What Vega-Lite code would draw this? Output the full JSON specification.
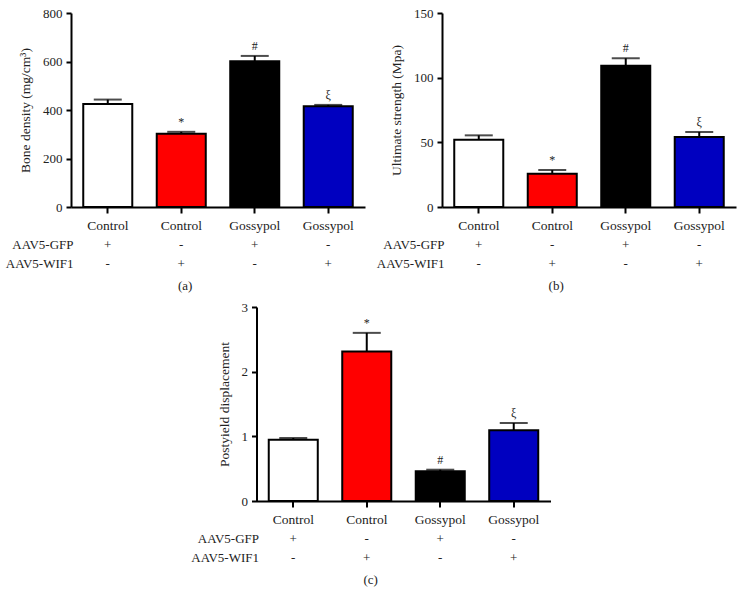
{
  "$schema": "https://vega.github.io/schema/vega-lite/v6.json",
  "padding": {"left": 5, "top": 7, "right": 5, "bottom": 5},
  "config": {
    "font": "Liberation Serif",
    "view": {"stroke": null},
    "axis": {"domainColor": "#000", "domainWidth": 2, "tickColor": "#000", "tickWidth": 2, "labelColor": "#222", "titleColor": "#222", "labelFont": "Liberation Serif", "titleFont": "Liberation Serif", "titleFontWeight": "normal", "grid": false, "labelFontSize": 13, "titleFontSize": 13.5},
    "title": {"font": "Liberation Serif", "fontSize": 13, "fontWeight": "normal", "color": "#222"}
  },
  "datasets": {
    "a": [
      {"id": "Control#1", "value": 425, "upper": 443, "sig": "", "AAV5-GFP": "+", "AAV5-WIF1": "-"},
      {"id": "Control#2", "value": 302, "upper": 310, "sig": "*", "AAV5-GFP": "-", "AAV5-WIF1": "+"},
      {"id": "Gossypol#3", "value": 601, "upper": 623, "sig": "#", "AAV5-GFP": "+", "AAV5-WIF1": "-"},
      {"id": "Gossypol#4", "value": 415, "upper": 421, "sig": "ξ", "AAV5-GFP": "-", "AAV5-WIF1": "+"}
    ],
    "b": [
      {"id": "Control#1", "value": 52, "upper": 55.4, "sig": "", "AAV5-GFP": "+", "AAV5-WIF1": "-"},
      {"id": "Control#2", "value": 25.8, "upper": 28.6, "sig": "*", "AAV5-GFP": "-", "AAV5-WIF1": "+"},
      {"id": "Gossypol#3", "value": 109.3, "upper": 115, "sig": "#", "AAV5-GFP": "+", "AAV5-WIF1": "-"},
      {"id": "Gossypol#4", "value": 54.1, "upper": 58, "sig": "ξ", "AAV5-GFP": "-", "AAV5-WIF1": "+"}
    ],
    "c": [
      {"id": "Control#1", "value": 0.948, "upper": 0.974, "sig": "", "AAV5-GFP": "+", "AAV5-WIF1": "-"},
      {"id": "Control#2", "value": 2.31, "upper": 2.6, "sig": "*", "AAV5-GFP": "-", "AAV5-WIF1": "+"},
      {"id": "Gossypol#3", "value": 0.459, "upper": 0.484, "sig": "#", "AAV5-GFP": "+", "AAV5-WIF1": "-"},
      {"id": "Gossypol#4", "value": 1.093, "upper": 1.206, "sig": "ξ", "AAV5-GFP": "-", "AAV5-WIF1": "+"}
    ]
  },
  "spacing": 8,
  "center": true,
  "vconcat": [
    {
      "spacing": 11,
      "hconcat": [
        {
          "title": {"text": "(a)", "orient": "bottom", "frame": "bounds", "anchor": "middle", "offset": 7},
          "spacing": 3,
          "vconcat": [
            {
              "data": {"name": "a"},
              "width": 294, "height": 194,
              "encoding": {"x": {"field": "id", "type": "nominal", "sort": null, "scale": {"paddingInner": 0.333, "paddingOuter": 0.1667}, "axis": {"title": null, "labelExpr": "split(datum.label,'#')[0]", "labelAngle": 0, "tickSize": 6, "labelPadding": 5, "labelFontSize": 13.5}}},
              "layer": [
                {"mark": {"type": "bar", "stroke": "#000", "strokeWidth": 2}, "encoding": {"y": {"field": "value", "type": "quantitative", "scale": {"domain": [0, 800], "nice": false}, "axis": {"values": [0, 200, 400, 600, 800], "format": "d", "tickSize": 5, "labelPadding": 4, "title": "Bone density (mg/cm³)", "titlePadding": 10}}, "fill": {"field": "id", "type": "nominal", "scale": {"range": ["#ffffff", "#ff0000", "#000000", "#0000c0"]}, "legend": null}}},
                {"mark": {"type": "rule", "strokeWidth": 2, "color": "#000"}, "encoding": {"y": {"field": "value", "type": "quantitative"}, "y2": {"field": "upper"}}},
                {"mark": {"type": "tick", "size": 28, "thickness": 2, "color": "#000"}, "encoding": {"y": {"field": "upper", "type": "quantitative"}}},
                {"mark": {"type": "text", "baseline": "bottom", "dy": -3, "fontSize": 12, "color": "#222"}, "encoding": {"y": {"field": "upper", "type": "quantitative"}, "text": {"field": "sig"}}}
              ]
            },
            {
              "data": {"name": "a"},
              "transform": [{"fold": ["AAV5-GFP", "AAV5-WIF1"], "as": ["row", "sym"]}],
              "width": 294, "height": 38,
              "mark": {"type": "text", "fontSize": 13, "color": "#222"},
              "encoding": {
                "x": {"field": "id", "type": "nominal", "sort": null, "axis": null},
                "y": {"field": "row", "type": "nominal", "sort": ["AAV5-GFP", "AAV5-WIF1"], "axis": {"title": null, "ticks": false, "domain": false, "labelPadding": -2, "labelFontSize": 13}},
                "text": {"field": "sym"}
              }
            }
          ]
        },
        {
          "title": {"text": "(b)", "orient": "bottom", "frame": "bounds", "anchor": "middle", "offset": 7},
          "spacing": 3,
          "vconcat": [
            {
              "data": {"name": "b"},
              "width": 294, "height": 194,
              "encoding": {"x": {"field": "id", "type": "nominal", "sort": null, "scale": {"paddingInner": 0.333, "paddingOuter": 0.1667}, "axis": {"title": null, "labelExpr": "split(datum.label,'#')[0]", "labelAngle": 0, "tickSize": 6, "labelPadding": 5, "labelFontSize": 13.5}}},
              "layer": [
                {"mark": {"type": "bar", "stroke": "#000", "strokeWidth": 2}, "encoding": {"y": {"field": "value", "type": "quantitative", "scale": {"domain": [0, 150], "nice": false}, "axis": {"values": [0, 50, 100, 150], "format": "d", "tickSize": 5, "labelPadding": 4, "title": "Ultimate strength (Mpa)", "titlePadding": 10}}, "fill": {"field": "id", "type": "nominal", "scale": {"range": ["#ffffff", "#ff0000", "#000000", "#0000c0"]}, "legend": null}}},
                {"mark": {"type": "rule", "strokeWidth": 2, "color": "#000"}, "encoding": {"y": {"field": "value", "type": "quantitative"}, "y2": {"field": "upper"}}},
                {"mark": {"type": "tick", "size": 28, "thickness": 2, "color": "#000"}, "encoding": {"y": {"field": "upper", "type": "quantitative"}}},
                {"mark": {"type": "text", "baseline": "bottom", "dy": -3, "fontSize": 12, "color": "#222"}, "encoding": {"y": {"field": "upper", "type": "quantitative"}, "text": {"field": "sig"}}}
              ]
            },
            {
              "data": {"name": "b"},
              "transform": [{"fold": ["AAV5-GFP", "AAV5-WIF1"], "as": ["row", "sym"]}],
              "width": 294, "height": 38,
              "mark": {"type": "text", "fontSize": 13, "color": "#222"},
              "encoding": {
                "x": {"field": "id", "type": "nominal", "sort": null, "axis": null},
                "y": {"field": "row", "type": "nominal", "sort": ["AAV5-GFP", "AAV5-WIF1"], "axis": {"title": null, "ticks": false, "domain": false, "labelPadding": -2, "labelFontSize": 13}},
                "text": {"field": "sym"}
              }
            }
          ]
        }
      ]
    },
    {
      "title": {"text": "(c)", "orient": "bottom", "frame": "bounds", "anchor": "middle", "offset": 7},
      "spacing": 3,
      "vconcat": [
        {
          "data": {"name": "c"},
          "width": 294, "height": 194,
          "encoding": {"x": {"field": "id", "type": "nominal", "sort": null, "scale": {"paddingInner": 0.333, "paddingOuter": 0.1667}, "axis": {"title": null, "labelExpr": "split(datum.label,'#')[0]", "labelAngle": 0, "tickSize": 6, "labelPadding": 5, "labelFontSize": 13.5}}},
          "layer": [
            {"mark": {"type": "bar", "stroke": "#000", "strokeWidth": 2}, "encoding": {"y": {"field": "value", "type": "quantitative", "scale": {"domain": [0, 3], "nice": false}, "axis": {"values": [0, 1, 2, 3], "format": "d", "tickSize": 5, "labelPadding": 4, "title": "Postyield displacement", "titlePadding": 10}}, "fill": {"field": "id", "type": "nominal", "scale": {"range": ["#ffffff", "#ff0000", "#000000", "#0000c0"]}, "legend": null}}},
            {"mark": {"type": "rule", "strokeWidth": 2, "color": "#000"}, "encoding": {"y": {"field": "value", "type": "quantitative"}, "y2": {"field": "upper"}}},
            {"mark": {"type": "tick", "size": 28, "thickness": 2, "color": "#000"}, "encoding": {"y": {"field": "upper", "type": "quantitative"}}},
            {"mark": {"type": "text", "baseline": "bottom", "dy": -3, "fontSize": 12, "color": "#222"}, "encoding": {"y": {"field": "upper", "type": "quantitative"}, "text": {"field": "sig"}}}
          ]
        },
        {
          "data": {"name": "c"},
          "transform": [{"fold": ["AAV5-GFP", "AAV5-WIF1"], "as": ["row", "sym"]}],
          "width": 294, "height": 38,
          "mark": {"type": "text", "fontSize": 13, "color": "#222"},
          "encoding": {
            "x": {"field": "id", "type": "nominal", "sort": null, "axis": null},
            "y": {"field": "row", "type": "nominal", "sort": ["AAV5-GFP", "AAV5-WIF1"], "axis": {"title": null, "ticks": false, "domain": false, "labelPadding": -2, "labelFontSize": 13}},
            "text": {"field": "sym"}
          }
        }
      ]
    }
  ]
}
